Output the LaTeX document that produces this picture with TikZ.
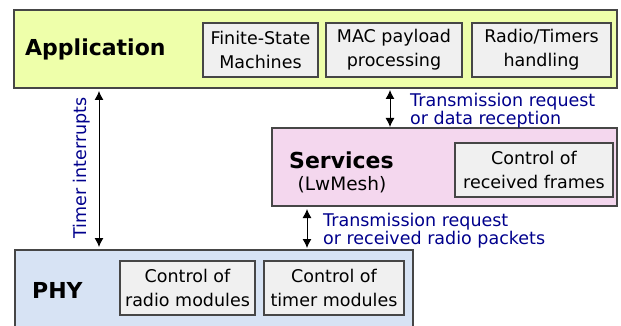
\documentclass[tikz,border=0pt]{standalone}
\usepackage{fontspec}
\setmainfont{DejaVu Sans}
\usetikzlibrary{arrows.meta}
\definecolor{appfill}{RGB}{238,255,170}
\definecolor{srvfill}{RGB}{244,215,238}
\definecolor{phyfill}{RGB}{215,227,244}
\definecolor{boxfill}{RGB}{240,240,240}
\definecolor{edgec}{RGB}{70,70,70}
\definecolor{lblc}{RGB}{0,0,140}
\tikzset{
  layer/.style={draw=edgec, line width=1.1pt, inner sep=0pt},
  inbox/.style={draw=edgec, line width=1.1pt, fill=boxfill, inner sep=0pt, align=center,
    font=\fontsize{17.5}{24}\selectfont},
  title/.style={font=\fontsize{22}{24}\bfseries\selectfont, inner sep=0pt},
  sub/.style={font=\fontsize{18.5}{20}\selectfont, inner sep=0pt},
  lbl/.style={text=lblc, align=left, inner sep=0pt, font=\fontsize{17.5}{16.5}\selectfont},
  conn/.style={{Latex[length=9pt,width=9pt]}-{Latex[length=9pt,width=9pt]}, line width=1pt, black}
}
\begin{document}
\begin{tikzpicture}[x=1pt,y=-1pt]
\useasboundingbox (0,0) rectangle (621,326);
% layers
\node[layer, fill=appfill, minimum width=603pt, minimum height=78pt] (app) at (315.5,49) {};
\node[layer, fill=srvfill, minimum width=345pt, minimum height=78pt] (srv) at (444.5,167) {};
\node[layer, fill=phyfill, minimum width=398pt, minimum height=80pt] (phy) at (214,290) {};
% titles
\node[title, anchor=west] (apptitle) at (25,49) {Application};
\node[title, anchor=west] (srvtitle) at (289,160) {Services};
\node[sub] (lwmesh) at (342,185) {(LwMesh)};
\node[title, anchor=west] (phytitle) at (32,290) {PHY};
% inner boxes
\node[inbox, minimum width=115pt, minimum height=54pt] (fsm) at (260.5,50) {Finite-State\\Machines};
\node[inbox, minimum width=136pt, minimum height=54pt] (mac) at (394,50) {MAC payload\\processing};
\node[inbox, minimum width=139pt, minimum height=54pt] (rad) at (541.5,50) {Radio/Timers\\handling};
\node[inbox, minimum width=158pt, minimum height=54pt] (crf) at (534,170) {Control of\\received frames};
\node[inbox, minimum width=135pt, minimum height=54pt] (crm) at (187.5,288) {Control of\\radio modules};
\node[inbox, minimum width=140pt, minimum height=54pt] (ctm) at (334,288) {Control of\\timer modules};
% connectors
\coordinate (t1) at (99,88);
\coordinate (t2) at (99,250);
\coordinate (a1) at (390,88);
\coordinate (a2) at (390,128);
\coordinate (s1) at (307,206);
\coordinate (s2) at (307,250);
\draw[conn, shorten <=3pt, shorten >=3pt] (t1) -- (t2);
\draw[conn, shorten <=2pt, shorten >=1pt] (a1) -- (a2);
\draw[conn, shorten <=3pt, shorten >=2pt] (s1) -- (s2);
% labels
\node[lbl, rotate=90] (tlbl) at (82,168) {Timer interrupts};
\node[lbl, anchor=west] (albl) at (410,110.5) {Transmission request\\or data reception};
\node[lbl, anchor=west] (slbl) at (323,230.5) {Transmission request\\or received radio packets};
\end{tikzpicture}
\end{document}
